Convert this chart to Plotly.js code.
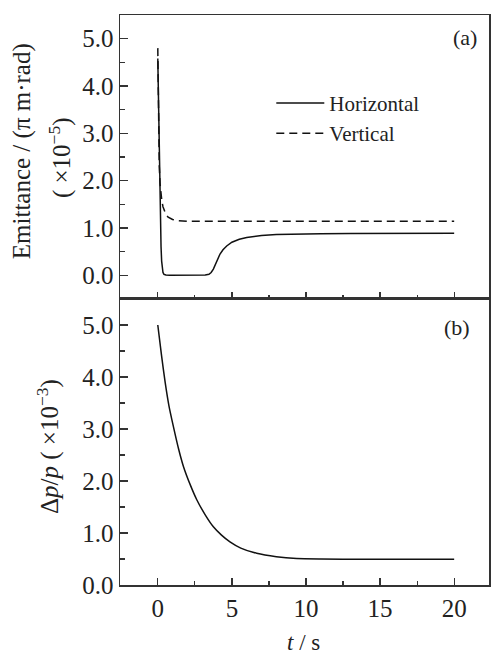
<!DOCTYPE html>
<html>
<head>
<meta charset="utf-8">
<script src="https://cdn.plot.ly/plotly-3.0.1.min.js"></script>
<style>html,body{margin:0;padding:0;background:#fff;}#chart{width:491px;height:655px;}</style>
</head>
<body>
<div id="chart"></div>
<script>
// Panel (a): emittance (×10^-5 π m·rad)
const tHoriz = [0, 0.03, 0.06, 0.1, 0.14, 0.18, 0.22, 0.26, 0.3, 0.35, 0.42, 0.55, 0.8, 1.5, 2.5, 3.2, 3.45, 3.6, 3.75, 3.9, 4.05, 4.2, 4.4, 4.65, 5.0, 5.5, 6.0, 7.0, 8.0, 9.5, 11, 13, 16, 20];
const emitHoriz = [4.58, 3.95, 3.3, 2.5, 1.75, 1.1, 0.6, 0.3, 0.14, 0.06, 0.02, 0.005, 0, 0, 0, 0.005, 0.02, 0.06, 0.13, 0.24, 0.36, 0.45, 0.54, 0.62, 0.7, 0.76, 0.8, 0.84, 0.86, 0.875, 0.88, 0.885, 0.887, 0.888];
const tVert = [0, 0.03, 0.06, 0.1, 0.15, 0.2, 0.27, 0.35, 0.45, 0.55, 0.7, 0.85, 1.0, 1.2, 1.5, 2.0, 3, 5, 10, 15, 20];
const emitVert = [4.8, 3.8, 3.0, 2.3, 1.95, 1.75, 1.58, 1.45, 1.34, 1.28, 1.23, 1.2, 1.18, 1.16, 1.15, 1.14, 1.14, 1.14, 1.14, 1.14, 1.14];
// Panel (b): momentum spread (×10^-3)
const tDp = [0, 0.25, 0.5, 0.75, 1.05, 1.4, 1.73, 2.2, 2.63, 3.2, 3.75, 4.3, 4.87, 5.6, 6.67, 8.0, 9.37, 11, 13.9, 17, 20];
const dpp = [5.0, 4.42, 3.89, 3.45, 3.05, 2.62, 2.28, 1.92, 1.64, 1.35, 1.12, 0.96, 0.83, 0.71, 0.61, 0.545, 0.51, 0.5, 0.495, 0.495, 0.495];
const legendNames = ["Horizontal", "Vertical"];
const panelLabels = ["(a)", "(b)"];
const xTitle = "<i>t</i> / s";
const yTitleTop1 = "Emittance / (π m·rad)";
const yTitleTop2 = "( ×10<sup>−5</sup>)";
const yTitleBottom = "Δ<i>p</i>/<i>p</i> ( ×10<sup>−3</sup>)";

const SERIF = "Liberation Serif, Times New Roman, serif";
const AX = "#333";

const traces = [
  {x: tHoriz, y: emitHoriz, xaxis: "x2", yaxis: "y2", mode: "lines", name: legendNames[0],
   line: {color: "#111", width: 1.5, shape: "linear"}},
  {x: tVert, y: emitVert, xaxis: "x2", yaxis: "y2", mode: "lines", name: legendNames[1],
   line: {color: "#111", width: 1.5, dash: "8px,5px", shape: "linear"}},
  {x: tDp, y: dpp, xaxis: "x", yaxis: "y", mode: "lines", showlegend: false,
   line: {color: "#111", width: 1.5, shape: "spline", smoothing: 0.6}}
];

const common = {
  showline: true, mirror: true, linecolor: AX, linewidth: 1.5,
  ticks: "inside", tickcolor: AX, tickwidth: 1.3,
  showgrid: false, zeroline: false,
  tickfont: {family: SERIF, size: 25, color: "#222"}
};
const xcommon = Object.assign({}, common, {
  range: [-2.55, 22.35], tick0: 0, dtick: 5, ticklen: 7,
  minor: {ticks: "inside", ticklen: 4, dtick: 2.5, tick0: 0, tickcolor: AX, tickwidth: 1.2, showgrid: false}
});
const ycommon = Object.assign({}, common, {
  tick0: 0, dtick: 1, ticklen: 8, tickformat: ".1f",
  minor: {ticks: "inside", ticklen: 5, dtick: 0.5, tick0: 0, tickcolor: AX, tickwidth: 1.2, showgrid: false}
});
const split = 0.5018;

const layout = {
  width: 491, height: 655,
  margin: {l: 120, r: 2, t: 15, b: 70},
  paper_bgcolor: "#fff", plot_bgcolor: "#fff",
  font: {family: SERIF, color: "#222"},
  xaxis: Object.assign({}, xcommon, {anchor: "y", domain: [0, 1]}),
  xaxis2: Object.assign({}, xcommon, {anchor: "y2", domain: [0, 1], matches: "x", showticklabels: false}),
  yaxis: Object.assign({}, ycommon, {anchor: "x", domain: [0, split], range: [0, 5.5]}),
  yaxis2: Object.assign({}, ycommon, {anchor: "x2", domain: [split, 1], range: [-0.5, 5.5]}),
  showlegend: true,
  legend: {x: 0.41, y: 0.881, xanchor: "left", yanchor: "top", bgcolor: "rgba(0,0,0,0)",
           itemwidth: 48,
           font: {family: SERIF, size: 21, color: "#222"}, borderwidth: 0},
  annotations: [
    {text: panelLabels[0], xref: "paper", yref: "paper", x: 0.935, y: 0.96, showarrow: false,
     xanchor: "center", yanchor: "middle", font: {family: SERIF, size: 22, color: "#222"}},
    {text: panelLabels[1], xref: "paper", yref: "paper", x: 0.913, y: 0.451, showarrow: false,
     xanchor: "center", yanchor: "middle", font: {family: SERIF, size: 22, color: "#222"}},
    {text: xTitle, xref: "paper", yref: "paper", x: 0.496, y: -0.1, showarrow: false,
     xanchor: "center", yanchor: "middle", font: {family: SERIF, size: 23, color: "#222"}},
    {text: yTitleTop1, xref: "paper", yref: "paper", x: -0.2656, y: 0.761, showarrow: false, textangle: -90,
     xanchor: "center", yanchor: "middle", font: {family: SERIF, size: 25, color: "#222"}},
    {text: yTitleTop2, xref: "paper", yref: "paper", x: -0.1626, y: 0.749, showarrow: false, textangle: -90,
     xanchor: "center", yanchor: "middle", font: {family: SERIF, size: 25, color: "#222"}},
    {text: yTitleBottom, xref: "paper", yref: "paper", x: -0.1951, y: 0.242, showarrow: false, textangle: -90,
     xanchor: "center", yanchor: "middle", font: {family: SERIF, size: 25, color: "#222"}}
  ]
};

Plotly.newPlot("chart", traces, layout, {displayModeBar: false, staticPlot: true});
</script>
</body>
</html>
